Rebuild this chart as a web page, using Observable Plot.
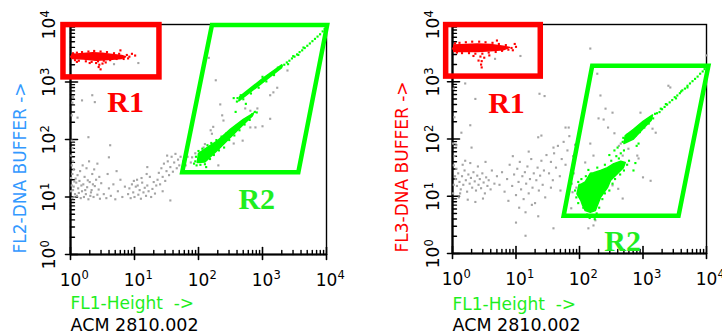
<!DOCTYPE html>
<html><head><meta charset="utf-8">
<script src="https://cdn.jsdelivr.net/npm/d3@7"></script>
<script src="https://cdn.jsdelivr.net/npm/@observablehq/plot@0.6"></script>
<style>
html,body{margin:0;padding:0;background:#fff;}
#wrap{display:flex;width:722px;height:333px;overflow:hidden;}
#wrap svg{display:block;flex:none;}
</style></head><body><div id="wrap"></div>
<script>
// All values are log10 of the channel value (decades 0..4 = 10^0..10^4)
const decades = [0, 1, 2, 3, 4];
const exponentLabels = ["0", "1", "2", "3", "4"];
const minorFactors = [2, 3, 4, 5, 6, 7, 8, 9];
const xTitle = "FL1-Height\u00a0\u00a0->";
const caption = "ACM 2810.002";
const yTitles = ["FL2-DNA BUFFER ->", "FL3-DNA BUFFER ->"];
const regionNames = ["R1", "R2"];

// gates
const leftR1 = {x1: -0.11, x2: 1.39, y1: 3.08, y2: 3.99};
const leftR2 = [[2.21, 3.99], [4.01, 3.99], [3.56, 1.43], [1.745, 1.43]];
const rightR1 = {x1: -0.10, x2: 1.39, y1: 3.09, y2: 3.99};
const rightR2 = [[2.20, 3.28], [4.03, 3.28], [3.56, 0.66], [1.75, 0.66]];
const leftLabelPos = [[0.86, 2.47], [2.91, 0.80]];
const rightLabelPos = [[0.85, 2.46], [2.68, 0.05]];

// ---------- left panel (FL1 vs FL2) ----------
const leftRedCore = [[0.02,3.41],[0.02,3.48],[0.15,3.49],[0.35,3.51],[0.5,3.50],[0.65,3.48],[0.8,3.46],[0.86,3.44],[0.8,3.41],[0.6,3.39],[0.4,3.38],[0.2,3.40]];
const leftRed = [[0.01,3.44],[0.04,3.50],[0.07,3.38],[0.10,3.51],[0.13,3.37],[0.18,3.52],[0.24,3.36],[0.28,3.53],[0.33,3.35],[0.37,3.54],[0.43,3.36],[0.47,3.53],[0.52,3.37],[0.57,3.52],[0.62,3.38],[0.68,3.50],[0.72,3.40],[0.76,3.49],[0.83,3.40],[0.88,3.47],[0.92,3.44],[0.96,3.49],[1.01,3.46],[0.90,3.41],[0.45,3.30],[0.47,3.22],[0.44,3.26],[0.50,3.32],[0.40,3.33],[0.30,3.33],[0.10,3.35],[0.55,3.34],[0.78,3.55]];
const leftGreenLowCore = [[1.98,1.60],[2.1,1.61],[2.3,1.82],[2.5,2.04],[2.7,2.26],[2.84,2.41],[2.86,2.46],[2.7,2.35],[2.5,2.18],[2.3,1.98],[2.15,1.87],[2.0,1.76]];
const leftGreenHighCore = [[2.63,2.67],[3.0,2.99],[3.3,3.25],[3.3,3.30],[3.0,3.06],[2.64,2.74]];
const leftGreen = [[1.95,1.62],[1.96,1.70],[1.97,1.55],[2.0,1.80],[2.03,1.56],[2.06,1.84],[2.1,1.57],[2.14,1.90],[2.18,1.66],[2.2,1.94],[2.24,1.73],[2.28,1.99],[2.32,1.81],[2.36,2.05],[2.40,1.86],[2.44,2.11],[2.48,1.99],[2.52,2.16],[2.56,2.07],[2.60,2.24],[2.64,2.16],[2.68,2.31],[2.72,2.26],[2.76,2.37],[2.80,2.34],[2.84,2.44],[2.88,2.48],[2.91,2.47],[1.93,1.58],[2.12,1.52],
[2.60,2.66],[2.61,2.72],[2.66,2.77],[2.70,2.70],[2.76,2.82],[2.82,2.80],[2.88,2.92],[2.94,2.90],[3.00,3.09],[3.06,3.01],[3.12,3.14],[3.18,3.12],[3.24,3.25],[3.30,3.28],[3.34,3.30],[3.38,3.34],[3.42,3.37],[3.46,3.41],[3.50,3.44],[3.54,3.48],[3.58,3.52],[3.62,3.55],[3.66,3.59],[3.70,3.63],[3.74,3.67],[3.78,3.71],[3.82,3.75],[3.86,3.79],[3.90,3.83],[3.94,3.88],[3.97,3.92],[3.48,3.45],[3.56,3.47],[3.64,3.60],[3.40,3.31],[2.55,2.72],[2.74,2.62],[2.58,2.48]];
const leftGray = [[0.02,1.98],[0.03,1.85],[0.01,1.72],[0.04,1.62],[0.02,1.55],[0.05,1.48],[0.03,1.40],[0.01,1.33],[0.06,1.27],[0.02,1.20],[0.04,1.12],[0.07,1.05],[0.03,0.98],[0.05,1.18],[0.08,1.32],[0.01,1.10],[0.06,1.00],[0.02,2.42],[0.04,2.74],[0.03,2.64],
[0.10,1.02],[0.12,1.15],[0.14,1.28],[0.16,0.98],[0.18,1.10],[0.20,1.22],[0.22,1.35],[0.24,1.05],[0.26,1.17],[0.28,0.96],[0.30,1.26],[0.32,1.08],[0.34,1.40],[0.36,1.00],[0.38,1.19],[0.40,1.30],[0.42,1.04],[0.44,1.13],[0.46,0.97],[0.48,1.24],[0.11,1.38],[0.15,1.45],[0.19,1.55],[0.25,1.50],[0.29,1.62],[0.33,1.12],[0.37,1.48],[0.13,1.07],[0.17,1.20],[0.21,1.00],[0.23,1.12],[0.27,1.29],[0.31,1.02],[0.35,1.22],[0.09,1.25],[0.45,1.35],
[0.52,1.05],[0.56,0.98],[0.60,1.15],[0.63,1.02],[0.67,1.22],[0.70,0.96],[0.74,1.10],[0.78,1.30],[0.81,1.00],[0.85,1.18],[0.58,1.40],[0.72,1.45],
[0.90,1.05],[0.92,1.15],[0.94,0.98],[0.96,1.22],[0.98,1.08],[1.00,1.00],[1.02,1.18],[1.04,1.30],[1.06,1.04],[1.08,1.12],[1.10,0.97],[1.12,1.25],[1.14,1.08],[1.16,1.16],[1.18,1.02],[1.20,1.20],[1.22,1.10],[1.24,1.35],[1.26,1.00],[1.28,1.14],[1.30,1.26],[1.32,1.06],[1.34,1.20],[1.05,1.20],[1.11,1.33],[1.19,1.40],[0.99,1.28],
[1.36,1.30],[1.38,1.42],[1.40,1.22],[1.42,1.50],[1.44,1.35],[1.46,1.58],[1.48,1.28],[1.50,1.45],[1.52,1.62],[1.54,1.38],[1.56,1.52],[1.58,1.70],[1.60,1.44],[1.62,1.60],[1.64,1.75],[1.66,1.50],[1.68,1.65],[1.70,1.55],[1.72,1.70],[1.56,0.94],[1.44,1.10],
[0.11,2.38],[0.28,2.04],[0.18,2.68],[0.34,2.77],[0.38,2.65],[0.62,1.90],[0.60,1.69],[0.42,1.58],[1.20,1.52],[1.51,1.72],[0.68,3.31],[1.06,3.33],
[2.16,3.42],[2.27,3.03],[2.34,2.61],[2.37,2.42],[2.39,2.33],[2.73,2.54],[2.81,2.50],[2.92,2.54],[3.12,2.36],[3.00,2.23],[2.89,2.21],[2.81,2.21],[2.69,1.98],[2.55,1.93],[3.39,3.20],[3.12,2.77],[3.17,2.82],[3.23,2.90],[2.31,1.55],[2.19,2.16],[2.21,2.10],[2.08,1.86],[2.10,1.92],[2.03,1.76],[1.95,1.76],[1.90,1.69],[1.88,1.60],[1.80,1.55],[1.76,1.62],[1.83,1.70],[2.23,2.22]];

// ---------- right panel (FL1 vs FL3) ----------
const rightRedCore = [[0.02,3.53],[0.02,3.64],[0.2,3.65],[0.4,3.66],[0.6,3.65],[0.8,3.62],[0.9,3.60],[0.8,3.56],[0.6,3.54],[0.4,3.53],[0.2,3.53]];
const rightRed = [[0.01,3.58],[0.04,3.67],[0.07,3.51],[0.11,3.68],[0.15,3.50],[0.21,3.69],[0.26,3.50],[0.31,3.70],[0.36,3.49],[0.42,3.70],[0.47,3.49],[0.52,3.69],[0.57,3.51],[0.63,3.68],[0.68,3.52],[0.73,3.66],[0.78,3.54],[0.84,3.64],[0.88,3.56],[0.93,3.59],[1.00,3.61],[0.95,3.55],[0.44,3.44],[0.46,3.36],[0.45,3.30],[0.46,3.25],[0.41,3.37],[0.50,3.42],[0.33,3.45],[0.58,3.46],[0.70,3.72],[0.98,3.66]];
const rightGreenHighCore = [[2.70,1.92],[2.85,2.00],[3.0,2.18],[3.13,2.33],[3.15,2.42],[3.0,2.31],[2.85,2.17],[2.72,2.06]];
const rightGreenLowCore = [[1.96,1.04],[1.99,1.19],[2.09,1.25],[2.17,1.40],[2.22,1.41],[2.33,1.45],[2.44,1.50],[2.54,1.57],[2.65,1.61],[2.72,1.59],[2.69,1.50],[2.6,1.40],[2.49,1.28],[2.44,1.15],[2.33,0.98],[2.28,0.84],[2.25,0.75],[2.17,0.72],[2.09,0.75],[2.05,0.84],[2.02,0.93]];
const rightGreen = [[1.93,1.10],[1.95,0.98],[1.98,1.25],[2.03,1.30],[2.06,0.80],[2.12,0.68],[2.20,0.66],[2.27,0.70],[2.31,0.80],[2.36,0.95],[2.40,1.05],[2.47,1.10],[2.52,1.22],[2.56,1.30],[2.64,1.38],[2.70,1.45],[2.75,1.55],[2.78,1.62],[2.62,1.66],[2.50,1.62],[2.40,1.55],[2.28,1.50],[2.14,1.46],[2.10,1.35],[2.00,1.20],[2.58,1.50],[2.45,1.40],[2.30,1.30],[2.15,1.10],[2.35,1.20],[1.98,0.88],[2.16,0.62],[2.88,1.58],[2.85,1.45],[2.24,0.60],[2.65,1.75],[2.70,1.80],[2.58,1.70],
[2.68,1.95],[2.69,2.02],[2.74,1.98],[2.76,2.08],[2.80,2.02],[2.83,2.10],[2.88,2.06],[2.91,2.16],[2.95,2.12],[2.98,2.23],[3.02,2.20],[3.05,2.30],[3.09,2.27],[3.11,2.37],[3.16,2.36],[3.19,2.44],[3.22,2.45],[3.26,2.47],[3.30,2.52],[3.34,2.56],[3.38,2.60],[3.42,2.64],[3.46,2.68],[3.50,2.73],[3.54,2.76],[3.58,2.80],[3.62,2.85],[3.66,2.88],[3.70,2.93],[3.74,2.97],[3.78,3.01],[3.82,3.05],[3.86,3.09],[3.90,3.14],[3.94,3.18],[3.97,3.22],[3.52,2.71],[3.60,2.83],[3.36,2.61],[3.28,2.53],[3.70,2.90],[2.55,1.80],[2.60,1.85],[2.47,1.72],[2.90,1.88],[2.93,1.92]];
const rightGray = [[0.02,2.88],[0.03,2.38],[0.01,1.92],[0.02,1.54],[0.03,1.70],[0.02,1.20],[0.04,1.35],[0.01,1.05],
[0.05,1.30],[0.07,1.18],[0.09,1.40],[0.11,1.25],[0.13,1.12],[0.15,1.35],[0.17,1.20],[0.19,1.45],[0.21,1.28],[0.23,1.08],[0.25,1.38],[0.27,1.22],[0.29,1.32],[0.31,1.15],[0.33,1.42],[0.35,1.26],[0.37,1.10],[0.39,1.36],[0.41,1.20],[0.43,1.30],[0.45,1.14],[0.47,1.40],[0.49,1.24],[0.51,1.05],[0.53,1.33],[0.55,1.18],[0.57,1.28],[0.60,1.12],[0.06,1.48],[0.16,1.55],[0.28,1.58],[0.40,1.52],[0.52,1.60],[0.10,0.98],[0.24,0.94],[0.36,0.90],[0.48,0.96],[0.62,1.45],[0.66,1.22],[0.70,1.35],[0.20,1.62],[0.12,1.05],
[0.74,1.20],[0.78,1.42],[0.82,1.08],[0.86,1.30],[0.90,1.55],[0.94,1.18],[0.97,1.38],[1.00,1.02],[1.02,1.48],[1.04,1.25],[1.06,1.60],[1.08,1.12],[1.10,1.35],[1.12,0.95],[1.14,1.42],[1.16,1.22],[1.18,1.52],[1.20,1.05],[1.22,1.30],[1.24,1.65],[1.26,1.15],[1.28,1.40],[1.30,0.88],[1.32,1.28],[1.34,1.50],[1.36,1.10],[1.38,1.36],[1.40,1.62],[1.42,1.20],[1.44,1.45],[1.46,0.98],[1.48,1.72],[1.05,0.80],[1.15,0.72],[1.25,0.85],[1.35,0.65],[1.00,0.54],[1.15,0.31],[0.88,0.92],[1.20,1.78],[0.95,1.70],
[1.52,1.40],[1.55,1.60],[1.58,1.28],[1.60,1.75],[1.63,1.50],[1.66,1.88],[1.69,1.35],[1.72,1.65],[1.75,1.95],[1.78,1.55],[1.81,1.80],[1.84,2.05],[1.87,1.45],[1.90,1.70],[1.93,1.90],[1.59,1.85],[1.83,2.20],[1.78,2.20],[1.35,2.03],[1.40,2.06],[1.59,0.44],[1.87,0.79],[2.14,0.44],[2.25,0.58],[1.55,1.15],[1.70,1.10],
[0.28,2.24],[0.14,2.11],[0.06,1.89],[0.30,1.85],[0.36,2.70],[0.20,2.97],[1.37,2.79],[1.45,2.75],[2.17,3.58],[4.0,3.46],[0.67,3.40],[1.07,3.45],
[2.28,3.14],[2.33,2.76],[2.41,2.53],[2.30,2.36],[2.38,2.34],[2.52,2.46],[2.96,2.46],[3.40,2.93],[3.43,2.90],[3.15,2.18],[3.20,2.11],[2.65,1.92],[2.62,1.88],[2.77,1.83],[2.91,1.71],[2.93,1.66],[2.68,1.71],[2.22,1.71],[2.17,1.92],[2.09,1.59],[1.91,1.40],[1.88,1.22],[1.95,1.15],[2.52,1.19],[2.61,1.13],[3.00,1.33],[3.12,1.27],[2.68,0.96],[1.89,1.07],[2.22,0.49],[2.55,2.10],[2.45,2.20]];

// ---------- styling ----------
const RED = "#ff0000", GREEN = "#00ff00", GREEN_TXT = "#1fee1f", GRAY = "#a4a4a4", BLUE = "#3399ff";
const FONT = "DejaVu Sans, Verdana, sans-serif";
const minorTicks = decades.slice(0, 4).flatMap(n => minorFactors.map(k => n + Math.log10(k)));
const tickShape = {draw(ctx, l) { ctx.moveTo(0, 0); ctx.lineTo(0, -l); }};
const XY = {x: d => d[0], y: d => d[1]};

function closeRing(pts) {
  const a = pts[0], b = pts[1];
  const mid = [(a[0] + b[0]) / 2, (a[1] + b[1]) / 2];
  return [mid, b, ...pts.slice(2), a, mid];
}

function panel(o) {
  const dots = (data, fill) => Plot.dot(data, {...XY, symbol: "square", r: 1.2, fill, stroke: null});
  const core = (data, fill) => Plot.line([...data, data[0]], {...XY, fill, stroke: fill, strokeWidth: 1.5});
  return Plot.plot({
    width: o.width, height: 333,
    marginLeft: o.ml, marginRight: o.mr, marginTop: 24, marginBottom: o.mb,
    x: {domain: [0, 4], axis: null},
    y: {domain: [0, 4], axis: null},
    style: {background: "white", overflow: "visible", fontFamily: FONT},
    marks: [
      Plot.frame({stroke: "black", strokeWidth: 1.4}),
      Plot.ruleX([0], {stroke: "black", strokeWidth: 2.2}),
      Plot.ruleY([0], {stroke: "black", strokeWidth: 2.2}),
      // x ticks (inside) and majors crossing
      Plot.vector(minorTicks, {x: d => d, frameAnchor: "bottom", length: 4, anchor: "start", shape: tickShape, stroke: "black", strokeWidth: 1.4}),
      Plot.vector(decades, {x: d => d, frameAnchor: "bottom", length: 7, anchor: "start", shape: tickShape, stroke: "black", strokeWidth: 1.6}),
      Plot.vector(decades, {x: d => d, frameAnchor: "bottom", length: 5, rotate: 180, anchor: "start", shape: tickShape, stroke: "black", strokeWidth: 1.6}),
      // y ticks
      Plot.vector(minorTicks, {y: d => d, frameAnchor: "left", length: 4, rotate: 90, anchor: "start", shape: tickShape, stroke: "black", strokeWidth: 1.4}),
      Plot.vector(decades, {y: d => d, frameAnchor: "left", length: 7, rotate: 90, anchor: "start", shape: tickShape, stroke: "black", strokeWidth: 1.6}),
      Plot.vector(decades, {y: d => d, frameAnchor: "left", length: 5, rotate: -90, anchor: "start", shape: tickShape, stroke: "black", strokeWidth: 1.6}),
      // x tick labels 10^n
      Plot.text(decades, {x: d => d, frameAnchor: "bottom", text: () => "10", dy: 31, lineAnchor: "bottom", textAnchor: "middle", fontSize: 17, fill: "black"}),
      Plot.text(decades, {x: d => d, frameAnchor: "bottom", text: (d, i) => exponentLabels[i], dx: 11, dy: 24, lineAnchor: "bottom", textAnchor: "start", fontSize: 11.5, fill: "black"}),
      // y tick labels 10^n (rotated)
      Plot.text(decades, {y: d => d, frameAnchor: "left", text: () => "10", rotate: -90, dx: o.ylx, dy: 4, lineAnchor: "bottom", textAnchor: "middle", fontSize: 17, fill: "black"}),
      Plot.text(decades, {y: d => d, frameAnchor: "left", text: (d, i) => exponentLabels[i], rotate: -90, dx: o.ylx - 6, dy: -7, lineAnchor: "bottom", textAnchor: "start", fontSize: 11.5, fill: "black"}),
      // titles
      Plot.text([xTitle], {frameAnchor: "bottom-left", text: d => d, dy: o.xtdy, lineAnchor: "bottom", textAnchor: "start", fontSize: 17, fill: GREEN_TXT}),
      Plot.text([caption], {frameAnchor: "bottom-left", text: d => d, dy: o.capdy, lineAnchor: "bottom", textAnchor: "start", fontSize: 17.5, fill: "black"}),
      Plot.text([o.yTitle], {frameAnchor: "bottom-left", text: d => d, rotate: -90, dx: -45, dy: -1, lineAnchor: "bottom", textAnchor: "start", fontSize: 17, fill: o.yColor}),
      // events
      dots(o.gray, GRAY),
      core(o.redCore, RED),
      dots(o.red, RED),
      ...o.greenCores.map(c => core(c, GREEN)),
      dots(o.green, GREEN),
      // gates
      Plot.rect([o.r1], {x1: "x1", x2: "x2", y1: "y1", y2: "y2", fill: "none", stroke: RED, strokeWidth: 5.5}),
      Plot.line(closeRing(o.r2), {...XY, stroke: GREEN, strokeWidth: 4.5, strokeLinejoin: "miter", strokeMiterlimit: 10}),
      Plot.text([o.labels[0]], {...XY, text: () => regionNames[0], fill: RED, fontFamily: "Liberation Serif, Times New Roman, serif", fontWeight: "bold", fontSize: 30, lineAnchor: "bottom", textAnchor: "middle"}),
      Plot.text([o.labels[1]], {...XY, text: () => regionNames[1], fill: GREEN_TXT, fontFamily: "Liberation Serif, Times New Roman, serif", fontWeight: "bold", fontSize: 30, lineAnchor: "bottom", textAnchor: "middle"})
    ]
  });
}

const wrap = document.getElementById("wrap");
wrap.appendChild(panel({width: 361, ml: 70, mr: 35, mb: 79, ylx: -16, xtdy: 54, capdy: 76,
  yTitle: yTitles[0], yColor: BLUE, gray: leftGray, red: leftRed, redCore: leftRedCore,
  green: leftGreen, greenCores: [leftGreenLowCore, leftGreenHighCore], r1: leftR1, r2: leftR2, labels: leftLabelPos}));
wrap.appendChild(panel({width: 361, ml: 91, mr: 16, mb: 80, ylx: -14, xtdy: 56, capdy: 77,
  yTitle: yTitles[1], yColor: RED, gray: rightGray, red: rightRed, redCore: rightRedCore,
  green: rightGreen, greenCores: [rightGreenLowCore, rightGreenHighCore], r1: rightR1, r2: rightR2, labels: rightLabelPos}));
</script></body></html>
